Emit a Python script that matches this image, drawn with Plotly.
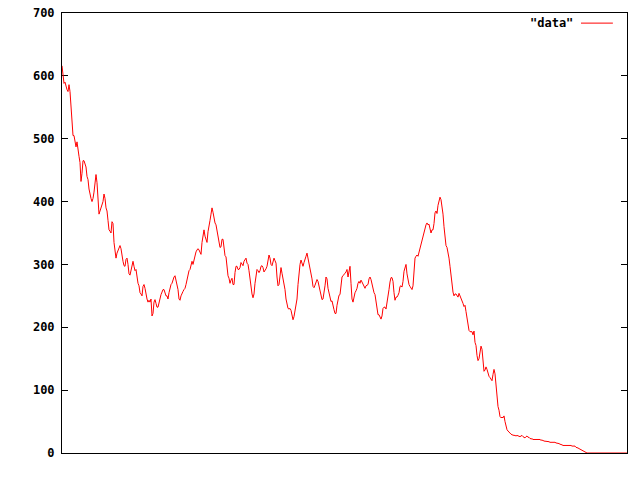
import plotly.graph_objects as go

# Values, one per horizontal pixel step
seg_a = [616, 595, 588, 590, 582, 578, 575, 586, 575, 555, 520, 505, 505, 495, 487, 495, 480, 472, 462,
         432, 445, 465, 465, 458, 455, 440, 435, 420, 410, 405, 400, 405, 415, 430, 443, 430, 405, 380,
         385, 390, 395, 400, 412, 405, 390, 385, 370, 355, 353, 350, 368, 365, 335, 320, 310, 318, 322,
         325, 330, 325, 312, 305, 298, 297, 308, 310, 300, 285, 283, 292, 298, 305, 297, 290, 292, 280,
         270, 266, 255, 253, 250, 265, 268, 262, 252, 245, 240, 243, 240, 245, 218, 222, 240, 244, 238,
         232, 232, 240, 242, 252, 256, 260, 260, 254, 250, 250, 245, 255, 265, 268, 270, 278, 280, 282,
         275, 268, 260, 245, 243, 250, 255, 257, 260, 262, 268, 275, 285, 290, 292, 300, 305, 300, 307]
seg_b = [318, 320, 323, 325, 323, 318, 316, 335, 350, 355, 345, 338, 335, 352, 365, 370, 380, 390, 383,
         372, 366, 363, 353, 343, 330, 327, 328, 340, 340, 325, 314, 312, 295, 282, 278, 270, 275, 278,
         268, 268, 287, 297, 297, 292, 292, 295, 303, 300, 298, 305, 308, 310, 302, 300, 290, 275, 265,
         253, 247, 253, 270, 285, 292, 290, 287, 290, 297, 298, 295, 288, 290, 293, 297, 305, 315, 310,
         300, 298, 303, 310, 306, 302, 280, 266, 268, 285, 295, 286, 278, 270, 260, 245, 234, 230, 229,
         230, 227, 220, 212, 217, 228, 235, 245, 268, 289, 300, 307, 300, 297, 303, 310, 313, 318, 310,
         302, 298, 290, 277, 265, 263, 267, 272, 276, 273, 265, 259, 251, 244, 245, 253, 266, 280, 277,
         262, 253, 246, 241, 242, 233, 228, 222, 222, 235, 246, 251, 252, 265, 280, 282, 285]
seg_c = [286, 288, 292, 280, 287, 297, 270, 245, 240, 250, 255, 258, 262, 270, 273, 270, 275, 272, 268,
         264, 262, 266, 267, 268, 277, 280, 276, 267, 258, 255, 252, 243, 232, 220, 220, 217, 213, 218,
         230, 232, 232, 229, 238, 250, 260, 272, 279, 279, 273, 255, 243, 248, 248, 251, 255, 265, 266,
         264, 273, 289, 297, 300, 285, 274, 268, 265, 262, 260, 266, 290, 310, 313, 315, 313, 319, 325,
         333, 338, 347, 353, 358, 363, 366, 363, 364, 353, 350, 355, 355, 365, 382, 385, 381, 394, 401,
         407, 403, 394, 380, 360, 340, 330, 327, 320, 310, 297, 282, 268, 256, 250, 253, 253, 250, 248,
         254, 250, 247, 245, 238, 233, 235, 225, 213, 200, 195, 193, 193, 193, 188]
seg_d = [194, 176, 171, 155, 147, 150, 159, 170, 165, 143, 130, 132, 137, 133, 126, 122, 120, 117, 115,
         125, 133, 126, 105, 86, 74, 68, 58, 56, 57, 56, 59, 50, 40, 37, 35, 33, 31, 30, 29, 28, 28, 28,
         27, 28, 27, 27, 26, 27, 28, 26, 25, 24, 26, 27, 25, 25, 23, 23, 22, 22, 21, 22, 21, 22, 21, 22,
         21, 21, 20, 20, 19, 19, 18, 18, 18, 18, 17, 17, 17, 18, 17, 17, 16, 16, 16, 15, 14, 14, 13, 12,
         12, 13, 13, 13, 13, 13, 12, 12, 11, 11, 10, 11, 9, 9, 8, 7, 6, 5, 4, 3, 3, 2] + [0] * 42

values = seg_a + seg_b + seg_c + seg_d
index = list(range(len(values)))
y_ticks = [0, 100, 200, 300, 400, 500, 600, 700]
series_name = '"data"'

fig = go.Figure()
fig.add_trace(go.Scatter(x=index, y=values, mode="lines", name=series_name,
                         line=dict(color="#ff0000", width=1), showlegend=False))

tick_font = dict(family="DejaVu Sans Mono", size=12, color="black", weight="bold")

fig.update_layout(
    width=640, height=480,
    margin=dict(l=62, r=13, t=13, b=27, pad=0, autoexpand=False),
    paper_bgcolor="white", plot_bgcolor="white",
    xaxis=dict(range=[0, len(values) - 1], showgrid=False, zeroline=False,
               showline=True, linecolor="black", linewidth=1, mirror=True,
               showticklabels=False, ticks="", layer="below traces", automargin=False),
    yaxis=dict(range=[0, 700], tickvals=y_ticks, ticktext=[str(v) for v in y_ticks],
               showgrid=False, zeroline=False, showline=True, linecolor="black",
               linewidth=1, mirror="ticks", ticks="inside", ticklen=6, tickcolor="black",
               tickfont=tick_font, ticklabelstandoff=4, layer="below traces", automargin=False),
    font=tick_font,
)

# gnuplot-style key: text followed by the line sample
fig.add_annotation(x=0.908, y=0.977, xref="paper", yref="paper", text=series_name,
                   showarrow=False, xanchor="right", yanchor="middle", font=tick_font)
fig.add_shape(type="line", xref="paper", yref="paper", x0=0.9186, x1=0.975, y0=0.977, y1=0.977,
              line=dict(color="#ff0000", width=1))

fig.write_html("out.html", config={"displayModeBar": False},
               post_script="document.body.style.margin='0';document.body.style.padding='0';")
